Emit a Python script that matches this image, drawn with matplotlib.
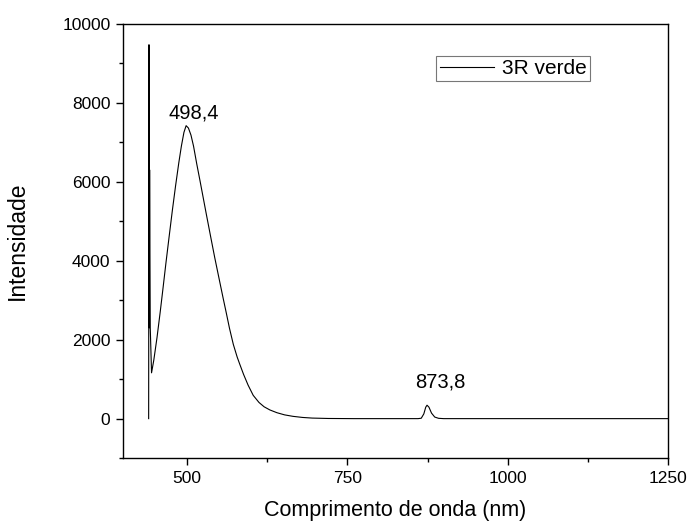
import matplotlib
matplotlib.use("Agg")
import matplotlib.pyplot as plt
from matplotlib.ticker import MultipleLocator

plt.rcParams['font.family'] = ['Liberation Sans', 'DejaVu Sans']

# spectrum (wavelength nm, intensity)
wavelength = [440.0, 440.5, 441.0, 441.5, 442.5, 444.5, 448, 453, 458, 462, 467,
              472, 477, 482, 487, 491, 495, 498.4, 502, 506, 510, 515, 520, 525,
              530, 537, 543, 550, 556, 561, 566, 572, 578, 582, 588, 595, 603,
              612, 620, 629, 640, 652, 665, 680, 695, 720, 760, 860, 865, 869,
              872, 874, 877, 881, 886, 892, 900, 1250]
intensity = [0, 9470, 2300, 6300, 2300, 1160, 1480, 2050, 2700, 3250, 3950,
             4620, 5280, 5900, 6480, 6900, 7250, 7420, 7360, 7180, 6900, 6450,
             6030, 5600, 5170, 4580, 4080, 3530, 3060, 2680, 2290, 1880, 1560,
             1380, 1120, 850, 590, 410, 300, 220, 150, 95, 58, 30, 14, 4, 0, 0,
             10, 120, 290, 340, 290, 140, 40, 8, 0, 0]

peak_labels = ["498,4", "873,8"]
peak_x = [511, 894]
peak_y = [7750, 940]

fig = plt.figure(figsize=(6.91, 5.29), dpi=100)
ax = fig.add_axes([0.178, 0.134, 0.789, 0.821])

ax.plot(wavelength, intensity, color='black', lw=0.8, label='3R verde')

for lab, px, py in zip(peak_labels, peak_x, peak_y):
    ax.text(px, py, lab, ha='center', va='center', fontsize=14.5)

ax.set_xlim(400, 1250)
ax.set_ylim(-1000, 10000)
ax.xaxis.set_major_locator(MultipleLocator(250))
ax.xaxis.set_minor_locator(MultipleLocator(125))
ax.yaxis.set_major_locator(MultipleLocator(2000))
ax.yaxis.set_minor_locator(MultipleLocator(1000))
ax.tick_params(which='major', length=5, width=1, labelsize=12.5, pad=4)
ax.tick_params(which='minor', length=3, width=1)
for s in ax.spines.values():
    s.set_linewidth(1.0)

ax.set_xlabel('Comprimento de onda (nm)', fontsize=15.5, labelpad=10)
ax.set_ylabel('Intensidade', fontsize=16.5, labelpad=24)

leg = ax.legend(loc='upper left', bbox_to_anchor=(0.575, 0.926), fontsize=15,
                frameon=True, fancybox=False, edgecolor='#555555',
                handlelength=2.6, handletextpad=0.4, borderpad=0.15,
                borderaxespad=0)
leg.get_frame().set_linewidth(0.8)

fig.savefig('out.png', dpi=100)
